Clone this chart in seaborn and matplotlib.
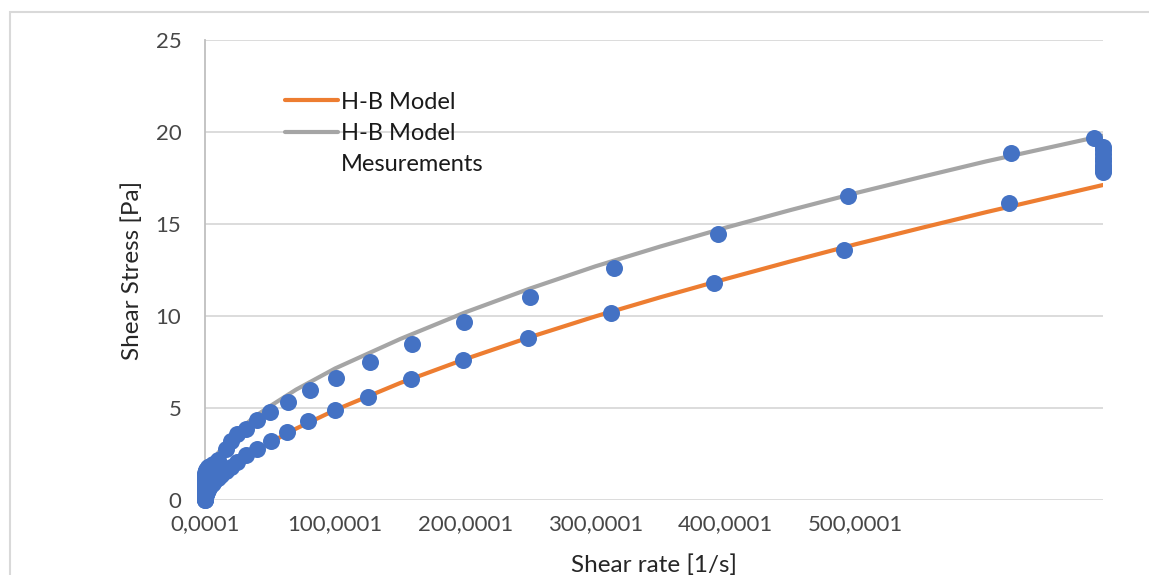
import matplotlib
matplotlib.use("Agg")
import matplotlib.pyplot as plt
import seaborn as sns
import pandas as pd
from matplotlib.lines import Line2D
from matplotlib.patches import Rectangle

# ---------------- data ----------------
# Herschel-Bulkley model curves
model_rate = [0.0001, 0.5, 1, 2, 5, 10, 20, 30, 40, 50, 70, 100, 150, 200, 250,
              300, 350, 400, 450, 500, 550, 600, 690]
model_low = [0.01, 0.17, 0.26, 0.40, 0.71, 1.11, 1.73, 2.24, 2.70, 3.12, 3.88, 4.89,
             6.36, 7.66, 8.86, 9.98, 11.02, 12.01, 12.97, 13.90, 14.78, 15.64, 17.12]
model_up = [0.69, 1.05, 1.22, 1.46, 1.96, 2.55, 3.41, 4.05, 4.62, 5.10, 6.00, 7.15,
            8.75, 10.20, 11.50, 12.70, 13.78, 14.80, 15.76, 16.68, 17.55, 18.40, 19.80]

# Measurements: ramp up, hold at max rate, ramp down
up_rate = [0.0001, 0.00016, 0.00025, 0.0004, 0.00063, 0.001, 0.0016, 0.0025, 0.004,
           0.0063, 0.01, 0.016, 0.025, 0.04, 0.063, 0.1, 0.16, 0.25, 0.4, 0.63, 1.0,
           1.6, 2.5, 4.0, 6.3, 10, 15.8, 20, 24.6, 31.5, 40, 50, 64, 81, 101, 127,
           159, 199, 250, 314, 394, 494, 619, 683]
up_stress = [0.03, 0.08, 0.14, 0.2, 0.28, 0.36, 0.45, 0.55, 0.65, 0.75, 0.85, 0.95,
             1.05, 1.14, 1.23, 1.31, 1.38, 1.45, 1.51, 1.56, 1.62, 1.7, 1.78, 1.86,
             1.96, 2.2, 2.75, 3.2, 3.59, 3.86, 4.35, 4.78, 5.33, 5.98, 6.63, 7.5,
             8.5, 9.67, 11.05, 12.62, 14.45, 16.5, 18.86, 19.67]
hold_rate = [690, 690, 690, 690, 690, 690, 690, 690, 690]
hold_stress = [19.2, 19.0, 18.8, 18.6, 18.4, 18.2, 18.05, 17.92, 17.83]
down_rate = [618, 491, 391, 312, 248.5, 198, 158.5, 125.4, 100, 79.2, 63.1, 50.8, 40,
             31.5, 24.6, 20, 15.8, 12.6, 10, 8, 6.3, 5, 4, 3.16, 2.5, 2, 1.6, 1.26,
             1, 0.63, 0.4, 0.25, 0.16, 0.1, 0.063, 0.04, 0.025, 0.016, 0.01, 0.004,
             0.001]
down_stress = [16.14, 13.59, 11.79, 10.16, 8.80, 7.61, 6.58, 5.60, 4.89, 4.29, 3.70,
               3.21, 2.77, 2.45, 2.07, 1.80, 1.58, 1.38, 1.20, 1.07, 0.95, 0.85, 0.76,
               0.68, 0.60, 0.53, 0.47, 0.41, 0.36, 0.30, 0.25, 0.20, 0.16, 0.12,
               0.09, 0.07, 0.05, 0.04, 0.03, 0.02, 0.01]

x_ticks = [0.0001, 100.0001, 200.0001, 300.0001, 400.0001, 500.0001]
x_tick_labels = ["0,0001", "100,0001", "200,0001", "300,0001", "400,0001", "500,0001"]
y_ticks = [0, 5, 10, 15, 20, 25]
y_tick_labels = ["0", "5", "10", "15", "20", "25"]

legend_labels = ["H-B Model", "H-B Model", "Mesurements"]

# ---------------- style ----------------
sns.set_theme(style="white")
plt.rcParams["font.family"] = ["Lato", "DejaVu Sans"]

ORANGE = "#ED7D31"
GRAY = "#A5A5A5"
BLUE = "#4472C4"

fig = plt.figure(figsize=(11.49, 5.75), dpi=100)
ax = fig.add_axes([205 / 1149, 1 - 500 / 575, (1103 - 205) / 1149, (500 - 40) / 575])

df_model = pd.DataFrame({"rate": model_rate, "low": model_low, "up": model_up})
meas_rate = up_rate + hold_rate + down_rate
meas_stress = up_stress + hold_stress + down_stress
df_meas = pd.DataFrame({"rate": meas_rate, "stress": meas_stress})

sns.lineplot(data=df_model, x="rate", y="low", ax=ax, color=ORANGE, linewidth=3.0,
             sort=False, estimator=None, zorder=3)
sns.lineplot(data=df_model, x="rate", y="up", ax=ax, color=GRAY, linewidth=3.0,
             sort=False, estimator=None, zorder=3)
sns.scatterplot(data=df_meas, x="rate", y="stress", ax=ax, color=BLUE, s=150,
                linewidth=0, zorder=4, clip_on=False)

ax.set_xlim(0.0001, 690)
ax.set_ylim(0, 25)
ax.set_xticks(x_ticks)
ax.set_xticklabels(x_tick_labels)
ax.set_yticks(y_ticks)
ax.set_yticklabels(y_tick_labels)
ax.tick_params(axis="both", length=0, labelsize=16, colors="#474747")
ax.tick_params(axis="y", pad=17)
ax.tick_params(axis="x", pad=10)

ax.grid(axis="y", color="#D9D9D9", linewidth=1.3)
ax.grid(axis="x", visible=False)
for side in ["top", "right", "bottom"]:
    ax.spines[side].set_visible(False)
ax.spines["left"].set_color("#BFBFBF")
ax.spines["left"].set_linewidth(1.3)

ax.set_xlabel("Shear rate [1/s]", fontsize=17.5, color="#262626", labelpad=15)
ax.set_ylabel("Shear Stress [Pa]", fontsize=17.5, color="#262626", labelpad=9)

handles = [Line2D([], [], color=ORANGE, linewidth=3.0),
           Line2D([], [], color=GRAY, linewidth=3.0),
           Line2D([], [], linestyle="none")]
leg = ax.legend(handles, legend_labels, loc="upper left", bbox_to_anchor=(0.089, 0.888),
                frameon=False, fontsize=17, handlelength=2.25, handletextpad=0.13,
                labelspacing=0.44, borderpad=0.0, borderaxespad=0.0)
for t in leg.get_texts():
    t.set_color("#1A1A1A")

# chart-area border (partially visible)
fig.patches.append(Rectangle((10 / 1149, -0.05), 1.2, 1 - 12 / 575 + 0.05,
                             transform=fig.transFigure, fill=False,
                             edgecolor="#D9D9D9", linewidth=1.5))

fig.savefig("out.png", dpi=100)
